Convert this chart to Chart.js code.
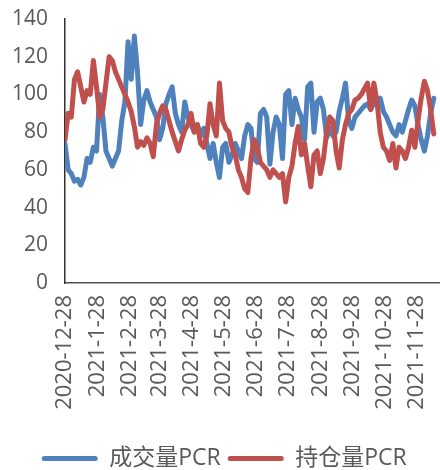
<!DOCTYPE html>
<html>
<head>
<meta charset="utf-8">
<script src="https://cdn.jsdelivr.net/npm/chart.js@4/dist/chart.umd.min.js"></script>
<style>
html,body{margin:0;padding:0;overflow:hidden;background:#fff;width:440px;height:470px;}
canvas{display:block;}
</style>
</head>
<body>
<canvas id="c" width="464" height="480"></canvas>
<script>
// ---- data ----
const startDate = '2020-12-28';
const stepDays = 3;
const seriesNames = ['成交量PCR', '持仓量PCR'];
const volumePCR = [74,60,58,54,55,52,56,66,64,72,70,100,88,70,66,62,66,70,86,96,
  128,108,131,112,84,97,102,96,92,88,76,82,95,100,104,90,84,80,96,88,
  84,80,84,78,82,74,66,74,64,56,72,74,64,68,74,70,66,78,84,82,
  66,64,90,92,88,63,80,88,84,66,100,102,84,98,92,88,76,104,106,80,
  96,98,92,77,82,78,80,91,98,106,86,82,88,90,92,94,95,92,96,94,
  98,91,88,84,80,78,84,80,86,92,97,94,84,76,70,78,90,98];
const openInterestPCR = [76,90,88,108,112,104,96,102,100,118,104,88,92,106,120,118,112,108,104,100,
  96,91,83,72,75,73,77,74,67,84,90,94,92,86,80,75,70,76,81,84,
  90,80,84,74,72,78,95,84,78,106,86,82,80,72,68,60,56,50,48,66,
  76,72,64,62,60,56,60,58,56,58,43,56,62,74,83,68,74,62,51,68,
  70,58,66,80,88,86,70,61,76,84,90,92,97,98,100,103,106,92,106,96,
  80,72,70,65,74,61,72,70,66,72,81,72,86,98,107,102,92,79];
const tickLabels = ['2020-12-28','2021-1-28','2021-2-28','2021-3-28','2021-4-28','2021-5-28',
  '2021-6-28','2021-7-28','2021-8-28','2021-9-28','2021-10-28','2021-11-28'];
const yTicks = [0,20,40,60,80,100,120,140];
const axisEndDate = '2021-12-28';

// ---- helpers ----
function dayOf(s){
  const p = s.split('-').map(Number);
  const p0 = startDate.split('-').map(Number);
  return Math.round((Date.UTC(p[0],p[1]-1,p[2]) - Date.UTC(p0[0],p0[1]-1,p0[2]))/86400000);
}
const tickDays = tickLabels.map(dayOf);
const toPoints = arr => arr.map((v,i)=>({x:i*stepDays, y:v}));

const GRAY = '#595959';
const FONT = "'Open Sans','Noto Sans CJK SC',sans-serif";

new Chart(document.getElementById('c'), {
  type: 'line',
  data: {
    datasets: [
      {label: seriesNames[0], data: toPoints(volumePCR), borderColor:'#4F81BD', backgroundColor:'#4F81BD',
       borderWidth:5, pointRadius:0, tension:0, borderJoinStyle:'round', borderCapStyle:'round', order:2},
      {label: seriesNames[1], data: toPoints(openInterestPCR), borderColor:'#C0504D', backgroundColor:'#C0504D',
       borderWidth:5, pointRadius:0, tension:0, borderJoinStyle:'round', borderCapStyle:'round', order:1}
    ]
  },
  options: {
    responsive:false, animation:false, devicePixelRatio:1,
    layout:{padding:{top:19, right:15.5, left:0, bottom:0}},
    plugins:{
      tooltip:{enabled:false},
      legend:{
        position:'bottom',
        labels:{
          color:GRAY, font:{family:FONT, size:23}, padding:7,
          boxWidth:56, boxHeight:5, useBorderRadius:true, borderRadius:2.5,
          sort:(a,b)=>a.datasetIndex-b.datasetIndex,
          generateLabels:(chart)=>Chart.defaults.plugins.legend.labels.generateLabels(chart).map(l=>Object.assign(l,{lineWidth:0}))
        }
      }
    },
    scales:{
      x:{
        type:'linear', min:0, max:dayOf(axisEndDate),
        grid:{display:false, drawTicks:false},
        border:{display:true, color:'#505050', width:1.5},
        afterBuildTicks:(s)=>{ s.ticks = tickDays.map(v=>({value:v})); },
        afterFit:(s)=>{ s.height = 157; },
        ticks:{
          autoSkip:false, minRotation:90, maxRotation:90, padding:12,
          color:GRAY, font:{family:FONT, size:22},
          callback:(v)=>{ const i = tickDays.indexOf(v); return i>=0 ? tickLabels[i] : ''; }
        }
      },
      y:{
        min:0, max:140,
        grid:{display:false, drawTicks:true, tickLength:15},
        border:{display:true, color:'#303030', width:1.5},
        afterBuildTicks:(s)=>{ s.ticks = yTicks.map(v=>({value:v})); },
        afterFit:(s)=>{ s.width = 65; },
        ticks:{padding:2, color:GRAY, font:{family:FONT, size:21}}
      }
    }
  }
});
</script>
</body>
</html>
